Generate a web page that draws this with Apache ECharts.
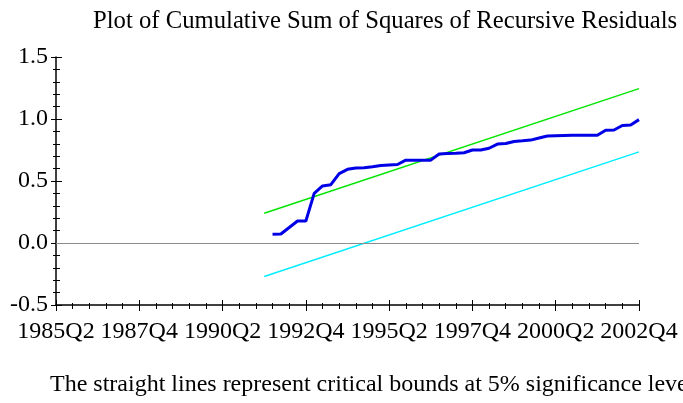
<!DOCTYPE html>
<html>
<head>
<meta charset="utf-8">
<script src="https://cdn.jsdelivr.net/npm/echarts@6/dist/echarts.min.js"></script>
<style>
  html, body { margin: 0; padding: 0; background: #fff; }
  #chart { width: 683px; height: 403px; }
</style>
</head>
<body>
<div id="chart"></div>
<script>
// x axis runs over quarter index, 0 = 1985Q2 ... 70 = 2002Q4
var tickLabels = ['1985Q2', '1987Q4', '1990Q2', '1992Q4', '1995Q2', '1997Q4', '2000Q2', '2002Q4'];
var yTicks = ['-0.5', '0.0', '0.5', '1.0', '1.5'];

// cusum of squares, first point at 1991Q4 (index 26)
var cusumStart = 26;
var cusumsq = [0.070, 0.073, 0.125, 0.177, 0.177, 0.400, 0.460, 0.470, 0.560, 0.594,
               0.605, 0.607, 0.615, 0.625, 0.630, 0.633, 0.668, 0.668, 0.668, 0.668,
               0.718, 0.722, 0.723, 0.728, 0.750, 0.750, 0.764, 0.798, 0.802, 0.819,
               0.824, 0.830, 0.847, 0.863, 0.865, 0.867, 0.868, 0.869, 0.869, 0.869,
               0.909, 0.911, 0.948, 0.952, 0.995];

// 5% critical bounds, straight lines from 1991Q3 (index 25) to 2002Q4 (index 70)
var boundIdx = [25, 70];
var upperBound = [0.240, 1.245];
var lowerBound = [-0.270, 0.735];

function pairs(xs, ys) {
    var out = [];
    for (var i = 0; i < ys.length; i++) out.push([xs[i], ys[i]]);
    return out;
}

var cusumData = [];
for (var i = 0; i < cusumsq.length; i++) cusumData.push([cusumStart + i, cusumsq[i]]);

var serif = 'Liberation Serif';
var chart = echarts.init(document.getElementById('chart'));

var xBase = { type: 'value', min: 0, max: 70, interval: 10, gridIndex: 0, splitLine: { show: false } };
var yBase = { type: 'value', min: -0.5, max: 1.5, interval: 0.5, gridIndex: 0, splitLine: { show: false } };

chart.setOption({
    animation: false,
    title: [
        {
            text: 'Plot of Cumulative Sum of Squares of Recursive Residuals',
            left: 88, top: 4,
            textStyle: { fontFamily: serif, fontSize: 24.7, fontWeight: 'normal', color: '#000' }
        },
        {
            text: 'The straight lines represent critical bounds at 5% significance level',
            left: 45, top: 368,
            textStyle: { fontFamily: serif, fontSize: 24, fontWeight: 'normal', color: '#000' }
        }
    ],
    grid: { left: 56, right: 44, top: 57, bottom: 98 },
    xAxis: [
        Object.assign({}, xBase, {
            position: 'bottom',
            axisLine: { onZero: false, lineStyle: { color: '#000', width: 1.5 } },
            axisTick: { length: 6, lineStyle: { color: '#000' } },
            minorTick: { show: true, splitNumber: 5, length: 4, lineStyle: { color: '#000' } },
            axisLabel: {
                margin: 15, color: '#000', fontFamily: serif, fontSize: 24,
                formatter: function (v) { return tickLabels[Math.round(v / 10)]; }
            }
        }),
        Object.assign({}, xBase, {
            position: 'bottom',
            axisLine: { show: false, onZero: false },
            axisTick: { inside: true, length: 5, lineStyle: { color: '#000' } },
            minorTick: { show: true, splitNumber: 5, length: 2, lineStyle: { color: '#000' } },
            axisLabel: { show: false }
        })
    ],
    yAxis: [
        Object.assign({}, yBase, {
            position: 'left',
            axisLine: { onZero: false, lineStyle: { color: '#000', width: 1.5 } },
            axisTick: { length: 5, lineStyle: { color: '#000' } },
            minorTick: { show: true, splitNumber: 5, length: 3, lineStyle: { color: '#000' } },
            axisLabel: {
                margin: 8, color: '#000', fontFamily: serif, fontSize: 24,
                formatter: function (v) { return yTicks[Math.round((v + 0.5) / 0.5)]; }
            }
        }),
        Object.assign({}, yBase, {
            position: 'left',
            axisLine: { show: false, onZero: false },
            axisTick: { inside: true, length: 6, lineStyle: { color: '#000' } },
            minorTick: { show: true, splitNumber: 5, length: 4, lineStyle: { color: '#000' } },
            axisLabel: { show: false }
        })
    ],
    series: [
        {
            name: 'zero', type: 'line', data: [], silent: true,
            markLine: {
                symbol: 'none', silent: true, label: { show: false },
                lineStyle: { color: '#8c8c8c', width: 1, type: 'solid' },
                data: [{ yAxis: 0 }]
            }
        },
        {
            name: 'upper', type: 'line', showSymbol: false,
            data: pairs(boundIdx, upperBound),
            lineStyle: { color: '#00e600', width: 1.5 }
        },
        {
            name: 'lower', type: 'line', showSymbol: false,
            data: pairs(boundIdx, lowerBound),
            lineStyle: { color: '#00eeff', width: 1.5 }
        },
        {
            name: 'CUSUMSQ', type: 'line', showSymbol: false,
            data: cusumData,
            lineStyle: { color: '#0000e6', width: 3 }
        }
    ]
});
</script>
</body>
</html>
